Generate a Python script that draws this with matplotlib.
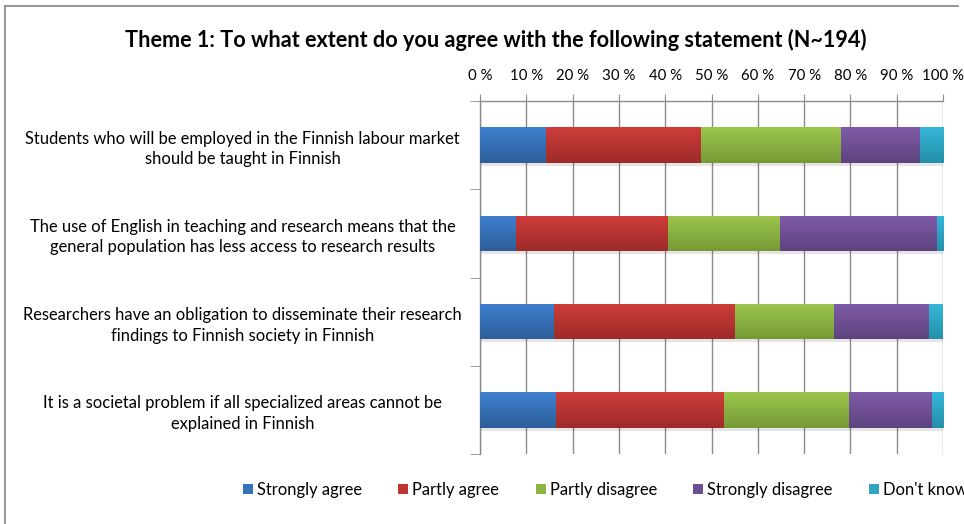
import matplotlib
matplotlib.use("Agg")
import matplotlib.pyplot as plt
import numpy as np
from matplotlib.patches import Patch
from matplotlib.lines import Line2D
from matplotlib.colors import LinearSegmentedColormap

plt.rcParams['font.family'] = ['Lato', 'DejaVu Sans']

categories = [
    "Students who will be employed in the Finnish labour market\nshould be taught in Finnish",
    "The use of English in teaching and research means that the\ngeneral population has less access to research results",
    "Researchers have an obligation to disseminate their research\nfindings to Finnish society in Finnish",
    "It is a societal problem if all specialized areas cannot be\nexplained in Finnish",
]
series_names = ["Strongly agree", "Partly agree", "Partly disagree", "Strongly disagree", "Don't know"]
strongly_agree = [14.3, 7.7, 15.9, 16.4]
partly_agree = [33.5, 32.9, 39.1, 36.2]
partly_disagree = [30.2, 24.1, 21.5, 27.0]
strongly_disagree = [17.0, 33.9, 20.5, 18.0]
dont_know = [5.0, 1.4, 3.0, 2.4]
xtick_labels = ["0 %", "10 %", "20 %", "30 %", "40 %", "50 %", "60 %", "70 %", "80 %", "90 %", "100 %"]
title = "Theme 1: To what extent do you agree with the following statement (N~194)"

series = [strongly_agree, partly_agree, partly_disagree, strongly_disagree, dont_know]
top_colors = ["#3F80CF", "#CE3D3B", "#9DC74C", "#7F5BA8", "#35B7DA"]
bot_colors = ["#2D5E99", "#9E2B29", "#759A36", "#5D437F", "#2590AA"]
mid_colors = ["#3670B8", "#BE3634", "#8BB443", "#6E4F94", "#2EA3C2"]

W, H = 964, 524
fig = plt.figure(figsize=(W / 100, H / 100), dpi=100)
x0, x1 = 480 / W, 943 / W
y_top, y_bot = 1 - 101 / H, 1 - 454 / H
ax = fig.add_axes([x0, y_bot, x1 - x0, y_top - y_bot])

n = len(categories)
ypos = np.arange(n)
left = np.zeros(n)
for i, vals in enumerate(series):
    vals = np.array(vals)
    # shadow
    ax.barh(ypos + 0.035, vals, left=left + 0.3, height=0.4, color="#000000",
            alpha=0.10, linewidth=0, zorder=2)
    bars = ax.barh(ypos, vals, left=left, height=0.4, color=mid_colors[i],
                   linewidth=0, zorder=3, label=series_names[i])
    cmap = LinearSegmentedColormap.from_list("g%d" % i, [top_colors[i], bot_colors[i]])
    grad = np.linspace(0, 1, 64).reshape(-1, 1)
    for b in bars:
        bx, by = b.get_x(), b.get_y()
        bw, bh = b.get_width(), b.get_height()
        im = ax.imshow(grad, cmap=cmap, aspect='auto', origin='upper',
                       extent=(bx, bx + bw, by + bh, by), zorder=3.5,
                       interpolation='bilinear')
        im.set_clip_path(b)
    left = left + vals

ax.set_xlim(0, 100)
ax.set_ylim(n - 0.5, -0.5)
ax.set_xticks(np.arange(0, 101, 10))
ax.set_xticklabels(xtick_labels, fontsize=10.8)
ax.xaxis.tick_top()
ax.tick_params(axis='x', length=5, color="#8C8C8C", pad=8, top=True, bottom=False)
ax.grid(axis='x', color="#8C8C8C", linewidth=1.0, zorder=0)
ax.set_axisbelow(True)

ax.set_yticks(ypos)
ax.set_yticklabels(categories, fontsize=11.9, ha='center', linespacing=1.35)
ax.tick_params(axis='y', length=0, pad=171)
# category boundary ticks
ax.set_yticks(np.arange(-0.5, n, 1.0), minor=True)
ax.tick_params(axis='y', which='minor', length=7, color="#8C8C8C")

for s in ['right', 'bottom']:
    ax.spines[s].set_visible(False)
ax.spines['top'].set_color("#8C8C8C")
ax.spines['left'].set_color("#8C8C8C")
ax.spines['top'].set_linewidth(1.0)
ax.spines['left'].set_linewidth(1.0)

fig.text(496 / W, 1 - 40 / H, title, ha='center', va='center',
         fontsize=15.6, fontweight='bold')

handles = [Patch(facecolor=mid_colors[i], edgecolor='none') for i in range(5)]
fig.legend(handles, series_names, loc='center left', bbox_to_anchor=(243 / W, 1 - 490 / H),
           ncol=5, frameon=False, fontsize=11.9, handlelength=0.6, handleheight=0.6,
           handletextpad=0.25, columnspacing=2.2, borderaxespad=0, borderpad=0)

# chart frame (top and left edges visible)
fig.add_artist(Line2D([5 / W, 5 / W], [0, 1 - 6 / H], color="#8C8C8C", linewidth=1.3,
                      transform=fig.transFigure))
fig.add_artist(Line2D([5 / W, 958 / W], [1 - 6 / H, 1 - 6 / H], color="#8C8C8C", linewidth=1.3,
                      transform=fig.transFigure))

fig.savefig("out.png", dpi=100)
